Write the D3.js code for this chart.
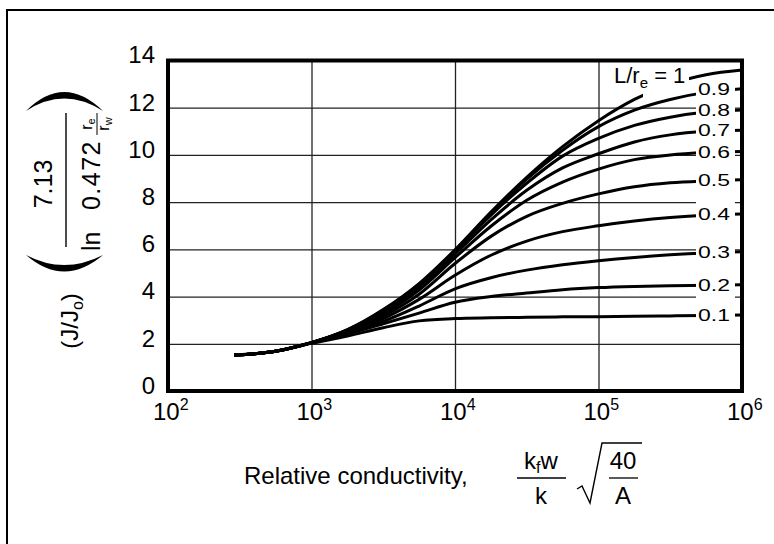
<!DOCTYPE html>
<html>
<head>
<meta charset="utf-8">
<script src="https://cdn.jsdelivr.net/npm/d3@7"></script>
<style>
  body { margin: 0; background: #fff; }
  svg { display: block; font-family: "Liberation Sans", Arial, sans-serif; }
</style>
</head>
<body>
<svg id="chart" width="774" height="544"></svg>
<script>
// relative conductivity (x) where the curves are sampled
const conductivity = [290, 560, 1000, 1780, 3160, 5620, 10000, 17800, 31600, 56200, 100000, 178000, 316000, 562000, 1000000];

// J/Jo group for each L/re ratio
const ratio10 = [1.52, 1.68, 2.05, 2.6, 3.45, 4.55, 5.98, 7.58, 9.05, 10.35, 11.45, 12.35, 13.0, 13.4, 13.6];
const ratio09 = [1.52, 1.68, 2.05, 2.59, 3.42, 4.52, 5.95, 7.55, 8.98, 10.2, 11.2, 11.9, 12.35, 12.65, 12.8];
const ratio08 = [1.52, 1.68, 2.05, 2.58, 3.38, 4.47, 5.9, 7.45, 8.8, 9.95, 10.7, 11.25, 11.6, 11.82, 11.9];
const ratio07 = [1.52, 1.68, 2.05, 2.57, 3.33, 4.4, 5.8, 7.25, 8.5, 9.45, 10.05, 10.55, 10.85, 11.0, 11.05];
const ratio06 = [1.52, 1.68, 2.05, 2.55, 3.27, 4.28, 5.65, 6.98, 8.08, 8.85, 9.4, 9.8, 10.0, 10.1, 10.15];
const ratio05 = [1.52, 1.68, 2.05, 2.53, 3.18, 4.1, 5.4, 6.55, 7.4, 7.95, 8.35, 8.65, 8.82, 8.9, 8.95];
const ratio04 = [1.52, 1.68, 2.05, 2.5, 3.07, 3.88, 4.9, 5.75, 6.35, 6.75, 7.0, 7.2, 7.35, 7.45, 7.5];
const ratio03 = [1.52, 1.68, 2.05, 2.47, 2.95, 3.6, 4.33, 4.8, 5.12, 5.35, 5.52, 5.66, 5.77, 5.85, 5.9];
const ratio02 = [1.52, 1.68, 2.04, 2.42, 2.85, 3.3, 3.76, 4.0, 4.15, 4.29, 4.38, 4.43, 4.46, 4.48, 4.5];
const ratio01 = [1.52, 1.68, 2.02, 2.33, 2.68, 2.97, 3.07, 3.1, 3.12, 3.14, 3.15, 3.17, 3.18, 3.2, 3.22];

const ratioLabels = ["1", "0.9", "0.8", "0.7", "0.6", "0.5", "0.4", "0.3", "0.2", "0.1"];
const ratioSeries = [ratio10, ratio09, ratio08, ratio07, ratio06, ratio05, ratio04, ratio03, ratio02, ratio01];

const yTicks = [0, 2, 4, 6, 8, 10, 12, 14];
const xTicks = [1e2, 1e3, 1e4, 1e5, 1e6];

const svg = d3.select("#chart");

// outer border (only top and left show in the picture)
svg.append("path")
  .attr("d", "M7,544 V10 H774")
  .attr("fill", "none")
  .attr("stroke", "#000")
  .attr("stroke-width", 2);

const x = d3.scaleLog().domain([1e2, 1e6]).range([168, 742]);
const y = d3.scaleLinear().domain([0, 14]).range([391, 60.5]);

// grid
svg.append("g")
  .attr("transform", "translate(0,391)")
  .call(d3.axisBottom(x).tickValues([1e3, 1e4, 1e5]).tickSize(-330.5).tickFormat(""))
  .call(g => g.select(".domain").remove())
  .call(g => g.selectAll("line").attr("stroke", "#222").attr("stroke-width", 1.3));

svg.append("g")
  .attr("transform", "translate(168,0)")
  .call(d3.axisLeft(y).tickValues([2, 4, 6, 8, 10, 12]).tickSize(-574).tickFormat(""))
  .call(g => g.select(".domain").remove())
  .call(g => g.selectAll("line").attr("stroke", "#222").attr("stroke-width", 1.3));

// curves
const line = d3.line()
  .x((d, i) => x(conductivity[i]))
  .y(d => y(d))
  .curve(d3.curveMonotoneX);

// gap in the L/re = 1 curve under its label
const mask = svg.append("defs").append("mask").attr("id", "gap1");
mask.append("rect").attr("width", 774).attr("height", 544).attr("fill", "#fff");
mask.append("rect").attr("x", 643).attr("y", 60).attr("width", 46).attr("height", 50).attr("fill", "#000");

svg.append("g")
  .selectAll("path")
  .data(ratioSeries)
  .join("path")
  .attr("d", line)
  .attr("fill", "none")
  .attr("stroke", "#000")
  .attr("stroke-width", 3)
  .attr("mask", (d, i) => i === 0 ? "url(#gap1)" : null);

// white column behind the ratio labels
svg.append("rect")
  .attr("x", 696).attr("y", 80)
  .attr("width", 39).attr("height", 246)
  .attr("fill", "#fff");

// ratio labels: the picture's digits are wide and short, so stretch them sideways
svg.append("g")
  .attr("font-size", 17)
  .selectAll("text")
  .data(ratioSeries.slice(1))
  .join("text")
  .attr("transform", d => `translate(698,${y(d[d.length - 1])}) scale(1.35,1)`)
  .attr("dy", "0.36em")
  .text((d, i) => ratioLabels[i + 1]);

const lbl1 = svg.append("text")
  .attr("x", 614).attr("y", 83)
  .attr("font-size", 22);
lbl1.append("tspan").text("L/r");
lbl1.append("tspan").attr("font-size", 15).attr("dy", 5).text("e");
lbl1.append("tspan").attr("dy", -5).text(" = " + ratioLabels[0]);

// frame
svg.append("rect")
  .attr("x", 168).attr("y", 60.5)
  .attr("width", 574).attr("height", 330.5)
  .attr("fill", "none")
  .attr("stroke", "#000")
  .attr("stroke-width", 4);

// y tick labels
svg.append("g")
  .attr("transform", "translate(168,0)")
  .call(d3.axisLeft(y).tickValues(yTicks).tickSize(0).tickPadding(13))
  .call(g => g.select(".domain").remove())
  .call(g => g.selectAll("text")
    .attr("font-size", 24)
    .attr("font-family", "Liberation Sans, Arial, sans-serif")
    .attr("fill", "#000")
    .attr("dy", "0.1em"));

// x tick labels as powers of ten
const xt = svg.append("g")
  .selectAll("text")
  .data(xTicks)
  .join("text")
  .attr("x", d => x(d) - 15)
  .attr("y", 420)
  .attr("font-size", 24);
xt.append("tspan").text("10");
xt.append("tspan").attr("font-size", 16).attr("dy", -10).text(d => Math.round(Math.log10(d)));

// x axis title
svg.append("text")
  .attr("x", 244).attr("y", 484)
  .attr("font-size", 24)
  .text("Relative conductivity,");

const kf = svg.append("text").attr("x", 541).attr("y", 469).attr("font-size", 24).attr("text-anchor", "middle");
kf.append("tspan").text("k");
kf.append("tspan").attr("font-size", 16).attr("dy", 4).text("f");
kf.append("tspan").attr("dy", -4).text("w");
svg.append("line").attr("x1", 517).attr("x2", 566).attr("y1", 478).attr("y2", 478)
  .attr("stroke", "#000").attr("stroke-width", 1.3);
svg.append("text").attr("x", 541).attr("y", 504).attr("font-size", 24).attr("text-anchor", "middle").text("k");

svg.append("path")
  .attr("d", "M577,489 L582,486 L590,503 L602,443 H642")
  .attr("fill", "none").attr("stroke", "#000").attr("stroke-width", 1.4);
svg.append("text").attr("x", 623).attr("y", 469).attr("font-size", 24).attr("text-anchor", "middle").text("40");
svg.append("line").attr("x1", 609).attr("x2", 638).attr("y1", 478).attr("y2", 478)
  .attr("stroke", "#000").attr("stroke-width", 1.3);
svg.append("text").attr("x", 623).attr("y", 504).attr("font-size", 24).attr("text-anchor", "middle").text("A");

// y axis title, rotated: (J/Jo) ( 7.13 / ln 0.472 re/rw )
const yl = svg.append("g").attr("transform", "rotate(-90)");
const jj = yl.append("text").attr("x", -321).attr("y", 78).attr("font-size", 24).attr("text-anchor", "middle");
jj.append("tspan").text("(J/J");
jj.append("tspan").attr("font-size", 16).attr("dy", 5).text("o");
jj.append("tspan").attr("dy", -5).text(")");

yl.append("text").attr("x", -184).attr("y", 52).attr("font-size", 25).attr("text-anchor", "middle").text("7.13");
yl.append("line").attr("x1", -247).attr("x2", -113).attr("y1", 66).attr("y2", 66)
  .attr("stroke", "#000").attr("stroke-width", 1.4);
yl.append("text").attr("x", -251).attr("y", 100).attr("font-size", 25).text("ln");
yl.append("text").attr("x", -140).attr("y", 100).attr("font-size", 25).attr("text-anchor", "end")
  .attr("letter-spacing", 1.5).text("0.472");

const re = yl.append("text").attr("x", -124).attr("y", 92).attr("font-size", 16).attr("text-anchor", "middle");
re.append("tspan").text("r");
re.append("tspan").attr("font-size", 11).attr("dy", 3).text("e");
yl.append("line").attr("x1", -135).attr("x2", -113).attr("y1", 97).attr("y2", 97)
  .attr("stroke", "#000").attr("stroke-width", 1);
const rw = yl.append("text").attr("x", -124).attr("y", 109).attr("font-size", 16).attr("text-anchor", "middle");
rw.append("tspan").text("r");
rw.append("tspan").attr("font-size", 11).attr("dy", 3).text("w");

// big parentheses around the fraction
svg.append("path")
  .attr("d", "M26,111 Q64,73 103,111 Q64,86 26,111 Z")
  .attr("fill", "#000");
svg.append("path")
  .attr("d", "M26,255 Q64,288 103,255 Q64,275 26,255 Z")
  .attr("fill", "#000");
</script>
</body>
</html>
